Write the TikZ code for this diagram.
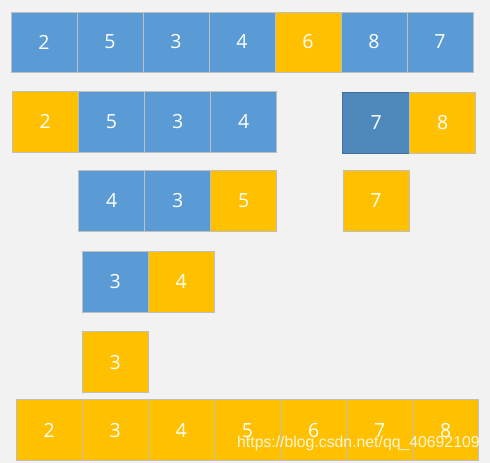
\documentclass[tikz,border=0pt]{standalone}
\usepackage{fontspec}
\setmainfont{Open Sans}
\newfontfamily\wmfont{Liberation Sans}
\definecolor{bgc}{HTML}{F2F2F2}
\definecolor{blu}{HTML}{5B9BD5}
\definecolor{yel}{HTML}{FFC000}
\definecolor{dblu}{HTML}{4F89BC}
\definecolor{dbord}{HTML}{41719C}
\definecolor{bord}{HTML}{BFBFBF}
\tikzset{
  cell/.style={draw=bord, line width=1pt, minimum width=66pt, minimum height=61pt,
    inner sep=0pt, outer sep=0pt, text=white, font=\fontsize{19.5}{22}\selectfont},
  bcell/.style={cell, fill=blu},
  ycell/.style={cell, fill=yel},
  dcell/.style={cell, fill=dblu, draw=dbord, line width=1.5pt},
  wmark/.style={text=white, text opacity=0.85, font=\wmfont\fontsize{15.8}{18}\selectfont, inner sep=0pt, anchor=west}
}
\begin{document}
\begin{tikzpicture}[x=1pt, y=-1pt]
\fill[bgc] (0,0) rectangle (490,463);
\useasboundingbox (0,0) rectangle (490,463);
% row 1
\node[bcell, minimum height=60pt] (a1) at (44,42) {2};
\node[bcell, minimum height=60pt] (a2) at (110,42) {5};
\node[bcell, minimum height=60pt] (a3) at (176,42) {3};
\node[bcell, minimum height=60pt] (a4) at (242,42) {4};
\node[ycell, minimum height=60pt] (a5) at (308,42) {6};
\node[bcell, minimum height=60pt] (a6) at (374,42) {8};
\node[bcell, minimum height=60pt] (a7) at (440,42) {7};
% row 2
\node[ycell] (b1) at (45.3,121.5) {2};
\node[bcell] (b2) at (111.5,121.5) {5};
\node[bcell] (b3) at (177.8,121.5) {3};
\node[bcell] (b4) at (243.8,121.5) {4};
\node[dcell, minimum width=67pt] (b5) at (376.2,123) {7};
\node[ycell] (b6) at (442.8,123) {8};
% row 3
\node[bcell] (c1) at (111.7,200.7) {4};
\node[bcell] (c2) at (177.7,200.7) {3};
\node[ycell] (c3) at (243.8,200.7) {5};
\node[ycell] (c4) at (376,200.7) {7};
% row 4
\node[bcell] (d1) at (115.3,281.5) {3};
\node[ycell] (d2) at (181.3,281.5) {4};
% row 5
\node[ycell] (e1) at (115.3,362.2) {3};
% row 6
\node[ycell] (f1) at (49.3,430.3) {2};
\node[ycell] (f2) at (115.3,430.3) {3};
\node[ycell] (f3) at (181.3,430.3) {4};
\node[ycell] (f4) at (247.5,430.3) {5};
\node[ycell] (f5) at (313.7,430.3) {6};
\node[ycell] (f6) at (379.7,430.3) {7};
\node[ycell] (f7) at (445.7,430.3) {8};
% watermark
\node[wmark] (wm) at (237,443) {https://blog.csdn.net/qq\_40692109};
\end{tikzpicture}
\end{document}
